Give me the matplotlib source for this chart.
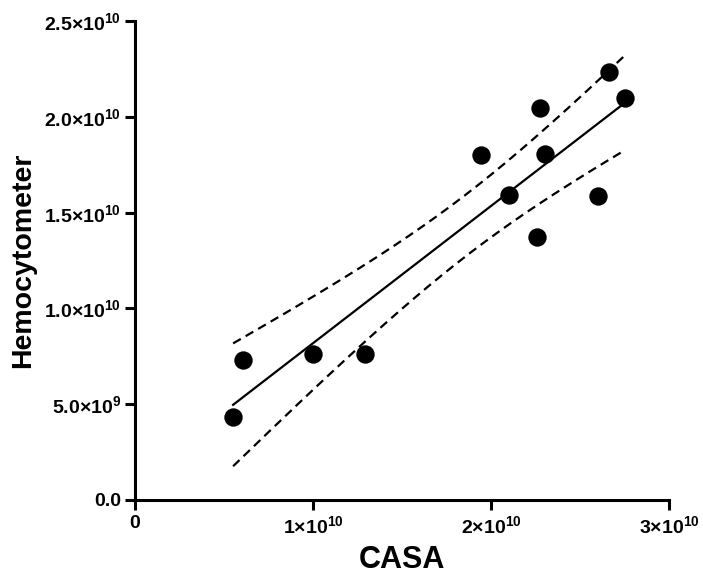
import matplotlib
matplotlib.use("Agg")
import matplotlib.pyplot as plt
import numpy as np
from matplotlib.ticker import FixedLocator

plt.rcParams["font.family"] = ["Liberation Sans", "DejaVu Sans"]
plt.rcParams["font.weight"] = "bold"
plt.rcParams["mathtext.fontset"] = "custom"
plt.rcParams["mathtext.rm"] = "Liberation Sans:bold"
plt.rcParams["mathtext.it"] = "Liberation Sans:bold"
plt.rcParams["mathtext.bf"] = "Liberation Sans:bold"

# data
casa = np.array([0.551, 0.607, 1.00, 1.29, 1.944, 2.10, 2.275, 2.258, 2.303, 2.60, 2.663, 2.753]) * 1e10
hemo = np.array([0.434, 0.731, 0.763, 0.763, 1.803, 1.594, 2.048, 1.374, 1.808, 1.588, 2.236, 2.10]) * 1e10

x_ticks = [0, 1e10, 2e10, 3e10]
x_labels = ["0", r"1×10$^{10}$", r"2×10$^{10}$", r"3×10$^{10}$"]
y_ticks = [0, 5e9, 1e10, 1.5e10, 2e10, 2.5e10]
y_labels = ["0.0", r"5.0×10$^{9}$", r"1.0×10$^{10}$", r"1.5×10$^{10}$", r"2.0×10$^{10}$", r"2.5×10$^{10}$"]

# linear regression with 95% confidence band
n = len(casa)
slope, intercept = np.polyfit(casa, hemo, 1)
resid = hemo - (slope * casa + intercept)
s = np.sqrt(np.sum(resid ** 2) / (n - 2))
t_crit = 2.228  # t(0.975, df=10)
xs = np.linspace(casa.min(), casa.max(), 200)
fit = slope * xs + intercept
se = s * np.sqrt(1 / n + (xs - casa.mean()) ** 2 / np.sum((casa - casa.mean()) ** 2))

fig = plt.figure(figsize=(7.03, 5.74), dpi=100)
ax = fig.add_axes([0.192, 0.129, 0.760, 0.834])

ax.plot(xs, fit, color="black", linewidth=1.6)
ax.plot(xs, fit + t_crit * se, color="black", linewidth=1.6, linestyle=(0, (4, 2.5)))
ax.plot(xs, fit - t_crit * se, color="black", linewidth=1.6, linestyle=(0, (4, 2.5)))
ax.scatter(casa, hemo, s=175, color="black", zorder=3, linewidths=0)

ax.set_xlim(0, 3e10)
ax.set_ylim(0, 2.5e10)
ax.xaxis.set_major_locator(FixedLocator(x_ticks))
ax.yaxis.set_major_locator(FixedLocator(y_ticks))
ax.set_xticklabels(x_labels)
ax.set_yticklabels(y_labels)

for side in ("top", "right"):
    ax.spines[side].set_visible(False)
for side in ("left", "bottom"):
    ax.spines[side].set_linewidth(2.2)
ax.tick_params(axis="both", width=2.2, length=7, labelsize=14)
ax.tick_params(axis="y", pad=3)
ax.tick_params(axis="x", pad=4)

ax.set_xlabel("CASA", fontsize=22, fontweight="bold", labelpad=6)
ax.set_ylabel("Hemocytometer", fontsize=20.5, fontweight="bold", labelpad=6)

fig.savefig("out.png", dpi=100, facecolor="white")
